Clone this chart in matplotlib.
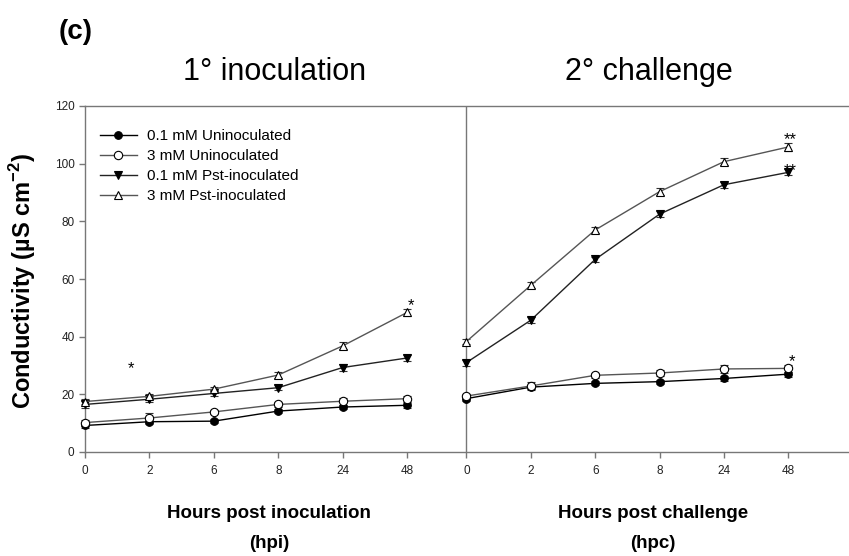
import matplotlib
matplotlib.use("Agg")
import matplotlib.pyplot as plt
from matplotlib.lines import Line2D

plt.rcParams['font.family'] = ['Liberation Sans', 'DejaVu Sans']
plt.rcParams['mathtext.fontset'] = 'custom'
plt.rcParams['mathtext.rm'] = 'Liberation Sans'
plt.rcParams['mathtext.bf'] = 'Liberation Sans:bold'

# Sampling times (same labels for both phases)
hours = ['0', '2', '6', '8', '24', '48']

# 1st inoculation (hpi)
inoc_01_uninoc = [9.2, 10.5, 10.7, 14.2, 15.6, 16.2]
inoc_3_uninoc = [10.2, 11.8, 13.9, 16.5, 17.6, 18.5]
inoc_01_pst = [16.5, 18.3, 20.3, 22.3, 29.3, 32.6]
inoc_3_pst = [17.5, 19.3, 21.8, 26.7, 36.8, 48.4]

# 2nd challenge (hpc)
chal_01_uninoc = [18.5, 22.5, 23.8, 24.4, 25.5, 27.0]
chal_3_uninoc = [19.4, 22.9, 26.6, 27.4, 28.8, 29.0]
chal_01_pst = [31.0, 45.7, 66.8, 82.5, 92.7, 97.0]
chal_3_pst = [38.3, 57.8, 77.0, 90.3, 100.7, 105.8]

# standard errors
inoc_err = [[0.8, 0.8, 0.6, 0.8, 0.8, 0.8],
            [1.0, 1.6, 0.8, 0.9, 1.2, 1.0],
            [1.2, 0.9, 0.8, 0.9, 1.1, 0.9],
            [0.9, 0.9, 0.8, 1.2, 1.2, 1.3]]
chal_err = [[0.8, 0.8, 0.7, 0.7, 0.9, 0.9],
            [0.8, 1.4, 0.8, 0.9, 1.5, 1.2],
            [1.0, 1.0, 0.9, 1.0, 1.0, 1.1],
            [0.9, 1.0, 1.0, 1.3, 1.2, 1.3]]

labels = ['0.1 mM Uninoculated', '3 mM Uninoculated',
          '0.1 mM Pst-inoculated', '3 mM Pst-inoculated']

styles = [dict(marker='o', mfc='black', ms=5.5),
          dict(marker='o', mfc='white', ms=6),
          dict(marker='v', mfc='black', ms=6),
          dict(marker='^', mfc='white', ms=6)]
line_colors = ['black', '#555555', '#222222', '#555555']

step = 1.0
split = 5.92  # where the challenge phase starts
x_left = [i * step for i in range(len(hours))]
x_right = [split + i * step for i in range(len(hours))]

fig = plt.figure(figsize=(8.49, 5.56), dpi=100)
ax = fig.add_axes([85 / 849, 1 - 452 / 556, 1 - 85 / 849, (452 - 106) / 556])

inoc = [inoc_01_uninoc, inoc_3_uninoc, inoc_01_pst, inoc_3_pst]
chal = [chal_01_uninoc, chal_3_uninoc, chal_01_pst, chal_3_pst]

handles = []
for k in range(4):
    for xs, ys, es in [(x_left, inoc[k], inoc_err[k]), (x_right, chal[k], chal_err[k])]:
        ax.errorbar(xs, ys, yerr=es, color=line_colors[k], lw=1.0,
                    mec='black', mew=0.8, ecolor='#333333', elinewidth=0.8,
                    capsize=3, capthick=0.8, clip_on=False, zorder=3,
                    **styles[k])
    handles.append(Line2D([], [], color=line_colors[k], lw=1.0, mec='black',
                          mew=0.8, **styles[k]))

# divider between the two phases
ax.axvline(split, color='#777777', lw=1.0, zorder=1)

ax.set_xlim(0, 11.86)
ax.set_ylim(0, 120)
ax.set_yticks(range(0, 121, 20))
ax.set_xticks(x_left + x_right)
ax.set_xticklabels(hours + hours)

for side in ['left', 'bottom', 'top']:
    ax.spines[side].set_color('#777777')
    ax.spines[side].set_linewidth(1.0)
ax.spines['right'].set_visible(False)
ax.tick_params(axis='both', direction='out', length=4, width=1.0,
               color='#777777', labelsize=8.5, labelcolor='#222222')
ax.tick_params(axis='x', pad=5)

# significance marks
ax.text(0.72, 28.9, '*', fontsize=12, ha='center', va='center')
ax.text(5.06, 50.8, '*', fontsize=12, ha='center', va='center')
ax.text(10.98, 31.4, '*', fontsize=12, ha='center', va='center')
ax.text(10.85, 108.5, '**', fontsize=12, ha='left', va='center')
ax.text(10.85, 97.5, '**', fontsize=12, ha='left', va='center')

leg = ax.legend(handles, labels, loc='upper left',
                bbox_to_anchor=(100 / 849, 1 - 129 / 556),
                bbox_transform=fig.transFigure, frameon=False, fontsize=11,
                borderpad=0, borderaxespad=0, labelspacing=0.4,
                handlelength=2.4, handletextpad=0.65, numpoints=1)

fig.text(76 / 849, 1 - 32 / 556, '(c)', fontsize=20, fontweight='bold',
         ha='center', va='center')
fig.text(275 / 849, 1 - 72 / 556, '1° inoculation', fontsize=22,
         ha='center', va='center')
fig.text(649 / 849, 1 - 72 / 556, '2° challenge', fontsize=22,
         ha='center', va='center')

fig.text(23 / 849, 1 - 281 / 556, r'Conductivity (µS cm$^{\mathbf{-2}}$)',
         fontsize=17, fontweight='bold', rotation=90, ha='center', va='center')

fig.text(269 / 849, 1 - 513 / 556, 'Hours post inoculation', fontsize=13.5,
         fontweight='bold', ha='center', va='center')
fig.text(269 / 849, 1 - 544 / 556, '(hpi)', fontsize=13.5,
         fontweight='bold', ha='center', va='center')
fig.text(653 / 849, 1 - 513 / 556, 'Hours post challenge', fontsize=13.5,
         fontweight='bold', ha='center', va='center')
fig.text(653 / 849, 1 - 544 / 556, '(hpc)', fontsize=13.5,
         fontweight='bold', ha='center', va='center')

fig.savefig('out.png', dpi=100)
